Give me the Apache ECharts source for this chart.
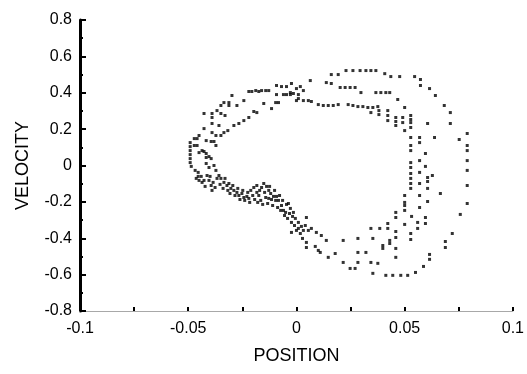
<!DOCTYPE html>
<html>
<head>
<meta charset="utf-8">
<script src="https://cdn.jsdelivr.net/npm/echarts@6/dist/echarts.min.js"></script>
<style>html,body{margin:0;padding:0;background:#fff}#c{width:527px;height:374px}</style>
</head>
<body>
<div id="c"></div>
<script>
// Tick labels
var xTicks = [-0.1, -0.05, 0, 0.05, 0.1];
var yTicks = [-0.8, -0.6, -0.4, -0.2, 0, 0.2, 0.4, 0.6, 0.8];

// Phase-space samples [position, velocity], grouped by region of the loop
var leftSide = [
  [-0.0491,0.126],[-0.0491,0.104],[-0.0491,0.082],[-0.0491,0.060],[-0.0491,0.038],[-0.0491,0.016],[-0.0486,-0.005],
  [-0.0472,0.148],[-0.0459,0.148],[-0.0427,0.286],[-0.039,0.286],[-0.0349,0.286],[-0.039,0.264],[-0.039,0.231],
  [-0.039,0.181],[-0.0417,0.137],[-0.0394,0.132],[-0.0381,0.132],[-0.0372,0.110],[-0.0436,0.082],[-0.0417,0.066],
  [-0.0404,0.049],[-0.045,0.071],[-0.0427,0.077],[-0.0417,0.044],[-0.0394,0.038],[-0.0459,0.110],
  [-0.0417,0.011],[-0.0404,-0.011],[-0.0367,0.302],[-0.033,0.275],[-0.0358,0.220],[-0.0372,0.165],
  [-0.0427,0.203],[-0.045,0.165],[-0.0472,0.110]
];
var upperLeft = [
  [-0.0349,0.330],[-0.0335,0.346],[-0.0312,0.346],[-0.0312,0.330],[-0.0275,0.330],[-0.0298,0.385],[-0.0243,0.357],
  [-0.0349,0.165],[-0.0335,0.181],[-0.0317,0.192],[-0.0289,0.220],[-0.0266,0.231],[-0.0243,0.247],[-0.022,0.264],
  [-0.0197,0.297],[-0.0183,0.291],[-0.0151,0.341],[-0.0115,0.313],[-0.0096,0.346],[-0.0083,0.346],
  [-0.022,0.407],[-0.0206,0.407],[-0.0188,0.412],[-0.0174,0.407],[-0.0161,0.412],[-0.0142,0.412],[-0.0128,0.412],
  [-0.0092,0.440],[-0.0069,0.434],[-0.0046,0.434],[-0.0092,0.390],[-0.006,0.390],[-0.0046,0.390],[-0.0028,0.390],
  [-0.0014,0.396],[0,0.423],[0,0.357]
];
var topArc = [
  [-0.0023,0.451],[0.0018,0.434],[0.0032,0.412],[0.0009,0.390],[-0.0028,0.401],[0.0009,0.368],[0.0032,0.357],
  [0.0055,0.357],[0.0069,0.352],[0.0101,0.335],[0.0124,0.330],[0.0147,0.330],[0.017,0.330],[0.0193,0.335],
  [0.0239,0.335],[0.0261,0.330],[0.0284,0.324],[0.0307,0.324],[0.033,0.319],[0.0353,0.319],[0.0376,0.324],
  [0.0344,0.291],[0.0381,0.302],[0.0381,0.280],[0.0064,0.467],[0.0138,0.456],[0.0161,0.451],[0.0202,0.429],
  [0.0225,0.429],[0.0248,0.429],[0.0271,0.429],[0.0298,0.401],[0.0367,0.401],[0.039,0.401],[0.0413,0.401],
  [0.0431,0.401],[0.0468,0.363],[0.05,0.319],[0.0161,0.500],[0.0193,0.500],[0.0229,0.522],[0.0261,0.522],
  [0.0294,0.522],[0.0321,0.522],[0.0344,0.522],[0.0367,0.522],[0.0408,0.505],[0.0436,0.489],[0.0477,0.489],
  [0.0546,0.489],[0.0573,0.473],[0.0573,0.440],[0.0615,0.423],[0.0642,0.385],[0.0683,0.330],[0.0711,0.291],
  [0.0711,0.231],[0.0789,0.176],[0.0752,0.143],[0.0789,0.110],[0.0789,0.082]
];
var rightInner = [
  [0.0422,0.302],[0.0422,0.275],[0.0422,0.247],[0.0459,0.264],[0.0459,0.242],[0.0459,0.220],[0.0491,0.264],
  [0.0491,0.236],[0.05,0.192],[0.0528,0.275],[0.0528,0.253],[0.0528,0.236],[0.0528,0.209],[0.0528,0.154],
  [0.0528,0.110],[0.0528,0.082],[0.0569,0.154],[0.0569,0.126],[0.0606,0.231],[0.0638,0.154],[0.0596,0.066],
  [0.0569,0.027],[0.0528,0.016],[0.0528,-0.011],[0.0596,-0.005],[0.0569,-0.038],[0.0606,-0.066],[0.0606,-0.088],
  [0.0628,-0.055],[0.0528,-0.044],[0.0528,-0.071],[0.0528,-0.099],[0.0528,-0.126],[0.0569,-0.099],[0.0606,-0.126],
  [0.0569,-0.165],[0.0606,-0.198],[0.0665,-0.154],[0.0569,-0.231],[0.05,-0.165],[0.05,-0.203],[0.05,-0.220],
  [0.05,-0.247],[0.0459,-0.258],[0.0459,-0.286],[0.0532,-0.280],[0.0596,-0.286],[0.0596,-0.319],[0.056,-0.313],
  [0.056,-0.346],[0.05,-0.324],[0.0422,-0.319],[0.0422,-0.346],[0.0459,-0.363],[0.0528,-0.374],[0.0528,-0.407],
  [0.0459,-0.396],[0.0431,-0.412],[0.0431,-0.429],[0.0459,-0.456],[0.0459,-0.505]
];
var rightOuter = [
  [0.0789,0.027],[0.0789,-0.027],[0.0789,-0.110],[0.0789,-0.209],[0.0757,-0.269],[0.072,-0.374],[0.0688,-0.418],
  [0.0688,-0.451],[0.0615,-0.489],[0.0615,-0.516],[0.0587,-0.555],[0.055,-0.588],[0.0514,-0.604],[0.0482,-0.604],
  [0.0445,-0.604],[0.0413,-0.604],[0.0353,-0.593]
];
var bottomArc = [
  [-0.0083,-0.192],[-0.0069,-0.220],[-0.006,-0.247],[-0.0037,-0.209],[-0.0028,-0.236],[-0.0014,-0.258],
  [-0.0005,-0.291],[0.0009,-0.313],[0.0009,-0.346],[0.0018,-0.374],[0.0046,-0.286],[0.0041,-0.330],[0.0055,-0.357],
  [-0.0023,-0.368],[0.0069,-0.346],[0.0092,-0.368],[0.0115,-0.385],[0.0046,-0.423],[0.0046,-0.451],[0.0087,-0.445],
  [0.0101,-0.467],[0.011,-0.478],[0.0138,-0.412],[0.0147,-0.505],[0.0179,-0.484],[0.0216,-0.412],[0.0216,-0.533],
  [0.0248,-0.566],[0.0271,-0.566],[0.0284,-0.401],[0.0284,-0.478],[0.0284,-0.533],[0.0321,-0.478],[0.0344,-0.346],
  [0.0353,-0.401],[0.0344,-0.533],[0.0385,-0.346],[0.0399,-0.440],[0.0399,-0.456],[0.0376,-0.538]
];
var lowerBand = [
  [-0.0454,-0.038],[-0.0454,-0.060],[-0.045,-0.082],[-0.0436,-0.093],[-0.0413,-0.055],[-0.0404,-0.082],
  [-0.0394,-0.110],[-0.039,-0.137],[-0.0381,0],[-0.0372,-0.027],[-0.0358,-0.055],[-0.0349,-0.071],[-0.0335,-0.093],
  [-0.0321,-0.110],[-0.0312,-0.099],[-0.0303,-0.126],[-0.0289,-0.137],[-0.0275,-0.148],[-0.0266,-0.165],
  [-0.0252,-0.154],[-0.0243,-0.176],[-0.0229,-0.170],[-0.022,-0.181],[-0.0211,-0.137],[-0.0197,-0.121],
  [-0.0183,-0.148],[-0.0174,-0.165],[-0.0165,-0.192],[-0.0183,-0.110],[-0.0151,-0.099],[-0.0138,-0.115],
  [-0.0128,-0.137],[-0.0119,-0.154],[-0.0106,-0.170],[-0.0096,-0.192],[-0.0128,-0.181],[-0.005,-0.258],
  [0.0023,-0.335],[0.0032,-0.357],
  [-0.0468,-0.027],[-0.0463,-0.071],[-0.044,-0.060],[-0.0427,-0.082],[-0.0422,-0.115],[-0.0399,-0.060],
  [-0.0385,-0.093],[-0.0376,-0.121],[-0.0367,-0.071],[-0.0353,-0.104],[-0.0339,-0.126],[-0.033,-0.071],
  [-0.0317,-0.137],[-0.0307,-0.154],[-0.0294,-0.110],[-0.0284,-0.165],[-0.0271,-0.126],[-0.0261,-0.187],
  [-0.0248,-0.137],[-0.0239,-0.192],[-0.0225,-0.148],[-0.0216,-0.203],[-0.0202,-0.165],[-0.0193,-0.187],
  [-0.0179,-0.203],[-0.017,-0.137],[-0.0161,-0.121],[-0.0156,-0.214],[-0.0147,-0.148],[-0.0142,-0.176],
  [-0.0133,-0.209],[-0.0124,-0.115],[-0.0115,-0.187],[-0.011,-0.220],[-0.0101,-0.137],[-0.0092,-0.170],
  [-0.0087,-0.231],[-0.0078,-0.165],[-0.0073,-0.247],[-0.0064,-0.192],[-0.0055,-0.275],[-0.0046,-0.214],
  [-0.0041,-0.291],[-0.0032,-0.264],[-0.0023,-0.313],[-0.0018,-0.280],[-0.0009,-0.330],[0,-0.357],[0.0028,-0.401]
];

var allPoints = [].concat(leftSide, upperLeft, topArc, rightInner, rightOuter, bottomArc, lowerBand);

var font = '"Liberation Sans", Arial, sans-serif';
var chart = echarts.init(document.getElementById('c'), null, {renderer: 'canvas'});
chart.setOption({
  animation: false,
  backgroundColor: '#ffffff',
  grid: {left: 80, right: 11, top: 20, bottom: 63},
  xAxis: {
    type: 'value', min: xTicks[0], max: xTicks[xTicks.length - 1], interval: 0.05,
    name: 'POSITION', nameLocation: 'middle', nameGap: 36,
    nameTextStyle: {fontFamily: font, fontSize: 18, color: '#000'},
    axisLine: {show: true, onZero: false, lineStyle: {color: '#a8a8a8', width: 1}},
    axisTick: {show: true, inside: true, length: 4, lineStyle: {color: '#000', width: 2}},
    minorTick: {show: true, splitNumber: 2, length: 4, lineStyle: {color: '#000', width: 2}},
    splitLine: {show: false},
    axisLabel: {fontFamily: font, fontSize: 16, color: '#000', margin: 10,
      formatter: function (v) { return String(Math.round(v * 1000) / 1000); }}
  },
  yAxis: {
    type: 'value', min: yTicks[0], max: yTicks[yTicks.length - 1], interval: 0.2,
    name: 'VELOCITY', nameLocation: 'middle', nameGap: 48, nameRotate: 90,
    nameTextStyle: {fontFamily: font, fontSize: 18, color: '#000'},
    axisLine: {show: true, onZero: false, lineStyle: {color: '#000', width: 3}},
    axisTick: {show: true, inside: true, length: 6, lineStyle: {color: '#000', width: 2}},
    minorTick: {show: true, splitNumber: 2, length: 3, lineStyle: {color: '#000', width: 2}},
    splitLine: {show: false},
    axisLabel: {fontFamily: font, fontSize: 16, color: '#000', margin: 8,
      formatter: function (v) { return String(Math.round(v * 10) / 10); }}
  },
  series: [{
    type: 'scatter',
    data: allPoints,
    symbol: 'rect',
    symbolSize: 3,
    itemStyle: {color: '#000'},
    silent: true
  }]
});
</script>
</body>
</html>
